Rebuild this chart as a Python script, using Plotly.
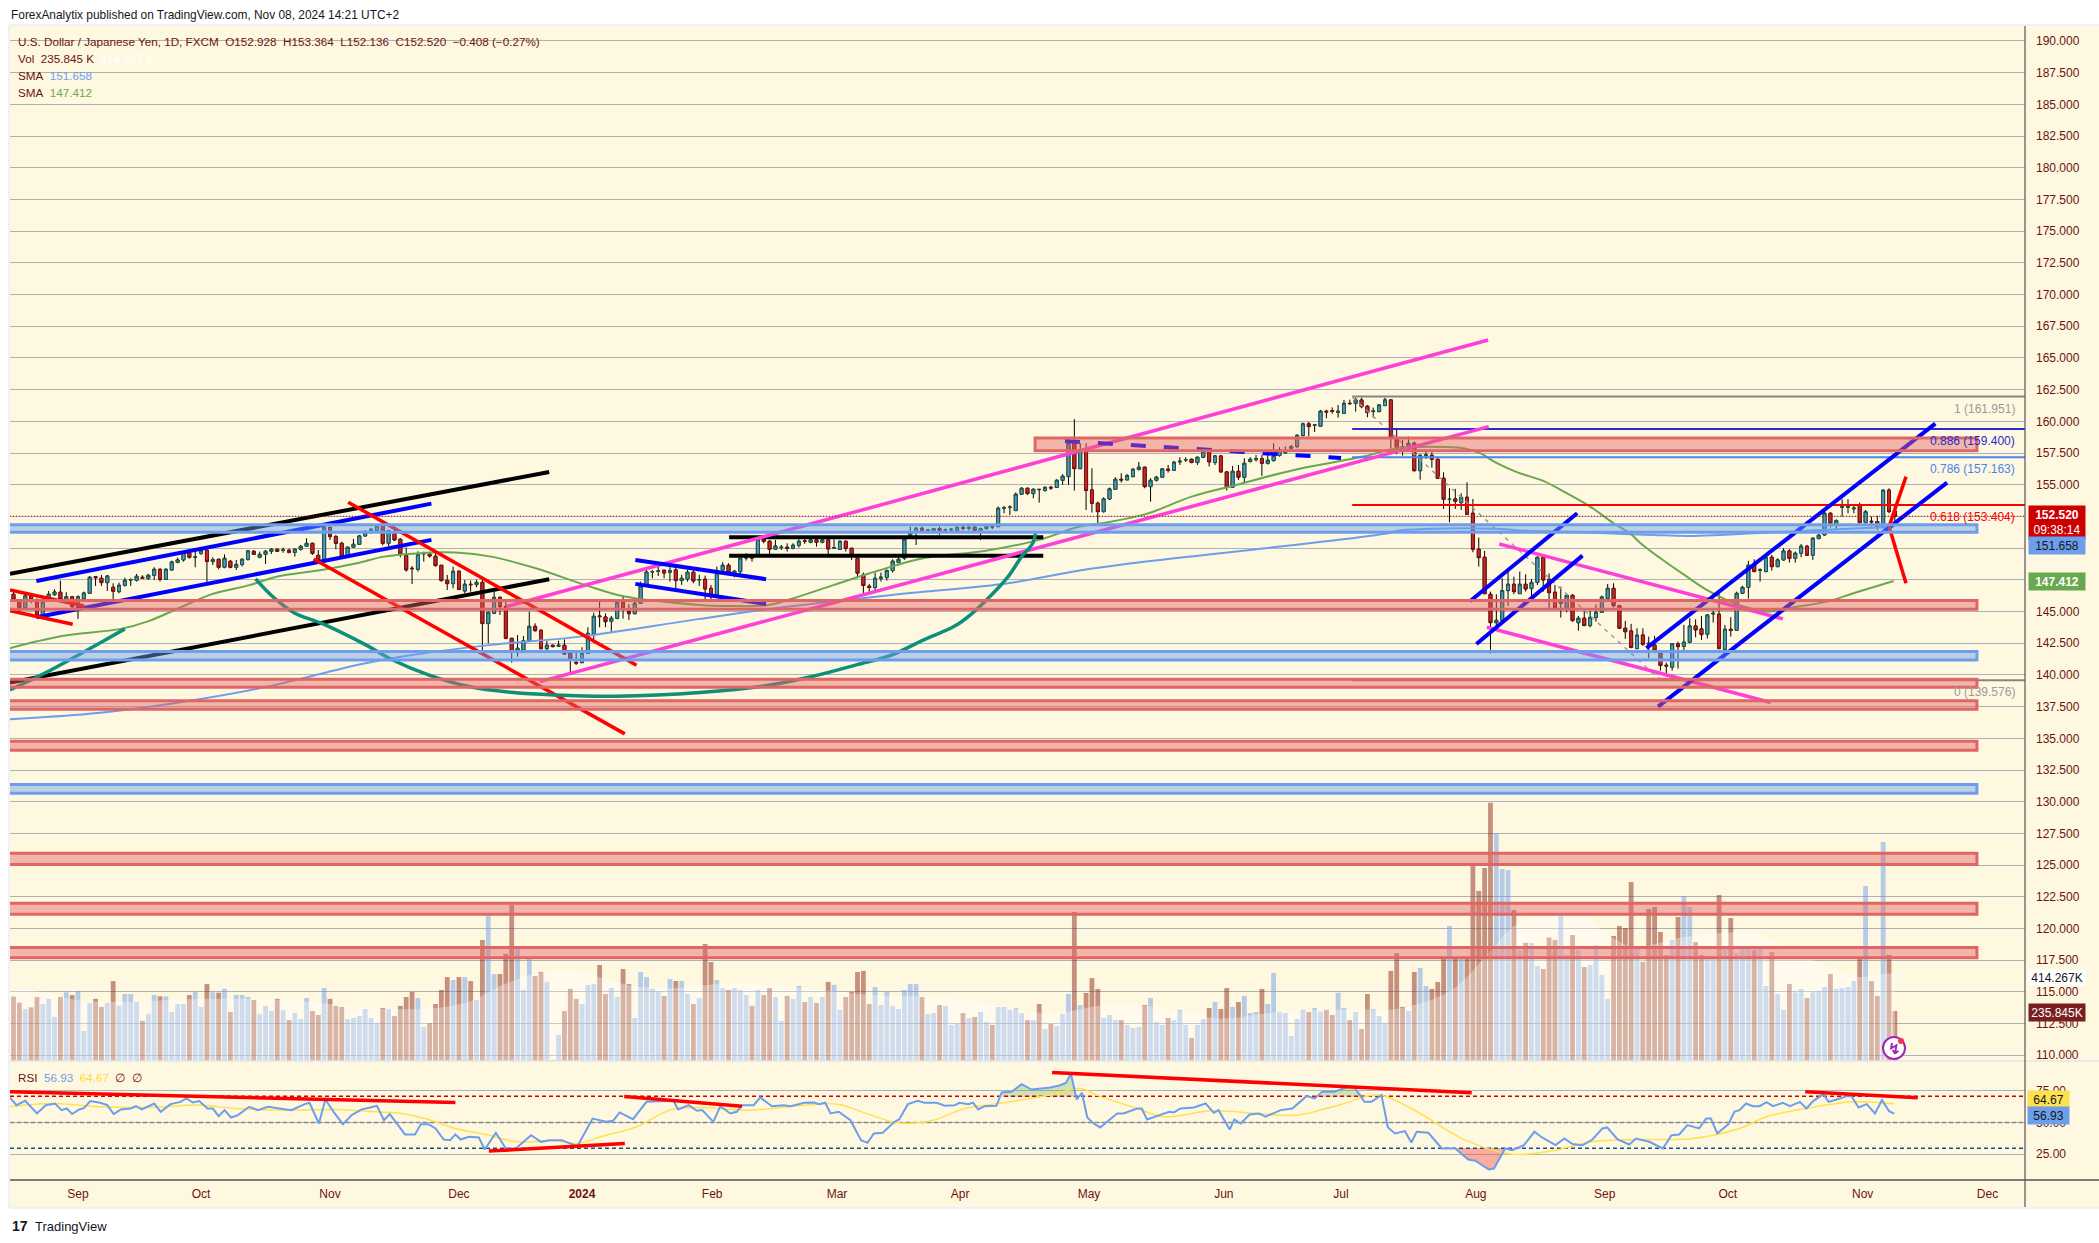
import plotly.graph_objects as go

# ---- candles: bar index -11 .. 310 ----
bars = list(range(-11, 311))
ohlc_rows = """146.36 146.57 145.78 145.96
145.78 145.91 144.99 145.31
145.31 146.44 145.25 146.23
146.23 146.38 145.65 145.91
145.78 146.04 144.54 144.73
144.73 145.91 144.65 145.78
146.04 146.62 145.86 146.36
146.33 146.75 146.23 146.54
146.52 147.44 145.96 145.96
145.96 146.52 145.86 146.17
146.17 146.23 145.25 145.39
145.39 146.28 144.41 146.17
146.02 146.57 145.96 146.46
146.44 147.80 146.38 147.70
147.75 147.80 147.02 147.67
147.62 147.88 147.02 147.28
147.28 147.88 146.62 147.80
146.91 147.23 145.99 146.60
146.57 147.28 146.44 147.07
147.07 147.67 146.96 147.46
147.49 147.62 147.02 147.51
147.46 147.96 147.36 147.78
147.70 147.86 147.57 147.62
147.62 147.96 147.49 147.86
147.86 148.49 147.49 148.33
148.33 148.41 147.36 147.54
147.54 148.41 147.49 148.33
148.28 149.01 148.23 148.91
148.88 149.25 148.80 149.07
149.07 149.75 148.94 149.64
149.64 149.72 149.17 149.28
149.28 149.72 148.49 149.30
149.59 149.99 149.46 149.83
149.83 149.91 147.30 148.94
148.94 149.28 148.67 149.09
149.12 149.17 148.33 148.49
148.49 149.51 148.41 149.20
148.96 149.07 148.41 148.49
148.49 149.07 148.28 148.72
148.72 149.20 148.54 149.12
149.12 149.85 149.01 149.78
149.75 149.85 149.46 149.51
149.28 149.72 149.20 149.51
149.51 149.85 148.75 149.75
149.75 149.99 149.54 149.91
149.91 149.96 149.72 149.75
149.83 150.04 149.64 149.85
149.83 149.96 149.59 149.67
149.67 149.99 149.33 149.91
149.91 150.25 149.80 150.14
150.14 150.78 150.12 150.38
150.38 150.43 149.46 149.59
149.43 149.85 149.01 149.07
149.12 151.77 149.07 151.64
151.64 151.70 150.64 150.91
150.91 151.04 149.91 150.38
150.38 150.51 149.33 149.38
149.38 150.12 149.33 150.07
150.07 150.72 150.01 150.30
150.30 151.04 150.25 150.96
150.96 151.43 150.91 151.22
151.22 151.56 151.17 151.49
151.38 151.83 151.30 151.75
151.75 151.83 150.22 150.38
150.38 151.43 150.17 151.38
151.17 151.43 150.59 150.64
150.70 150.78 149.28 149.54
149.41 150.04 148.15 148.28
148.41 148.59 147.17 148.38
148.33 149.75 148.15 149.51
149.54 149.72 148.94 149.59
149.51 149.72 149.25 149.38
149.36 149.59 148.54 148.62
148.65 148.67 147.36 147.44
147.46 147.88 146.70 147.20
147.20 148.54 146.83 148.17
148.17 148.28 146.70 146.75
146.62 147.49 146.44 147.15
147.15 147.44 146.57 147.12
147.12 147.49 146.91 147.30
147.30 147.49 141.76 144.05
144.05 144.99 142.49 144.94
144.86 146.57 144.81 146.12
146.12 146.17 144.73 145.39
145.39 145.78 142.81 142.89
142.89 142.89 140.97 141.84
141.84 143.15 141.44 142.10
141.97 143.07 141.92 142.70
142.70 144.99 142.63 143.83
143.83 144.07 143.41 143.49
143.52 143.60 142.02 142.07
142.07 142.68 141.97 142.34
142.34 142.41 142.18 142.23
142.26 142.70 142.20 142.34
142.34 142.81 141.57 141.65
141.70 141.76 140.21 141.23
140.99 141.97 140.78 140.94
140.97 142.18 140.92 141.70
141.70 143.76 141.65 143.28
143.23 144.91 142.81 144.62
144.65 145.78 143.76 144.60
144.57 144.86 143.76 144.20
144.23 144.65 143.41 144.47
144.47 145.78 144.39 145.73
145.73 146.25 144.44 145.28
145.02 145.57 144.33 144.83
144.83 145.83 144.78 145.65
145.65 147.36 145.60 146.99
147.09 148.28 147.02 148.12
148.12 148.28 147.62 148.15
148.17 148.59 147.80 148.20
148.25 148.33 147.62 148.04
148.10 148.49 147.36 148.23
148.28 148.60 146.70 147.44
147.44 147.89 147.10 147.62
147.57 148.28 147.36 148.10
148.10 148.23 147.23 147.41
147.49 147.89 147.02 147.52
147.55 147.83 145.97 146.78
146.83 147.10 145.97 146.31
146.31 148.54 146.26 148.02
148.28 148.89 148.23 148.65
148.65 148.81 147.97 148.07
147.94 148.28 147.70 148.18
148.15 149.33 147.89 149.20
149.23 149.60 149.02 149.25
149.25 149.46 148.94 149.23
149.46 150.86 149.33 150.70
150.70 150.83 150.38 150.52
150.54 150.65 149.54 149.91
149.91 150.65 149.86 150.17
150.04 150.25 149.86 150.07
150.07 150.38 149.73 149.99
149.99 150.38 149.91 150.23
150.23 150.70 150.04 150.54
150.57 150.78 150.33 150.54
150.46 150.91 150.38 150.65
150.65 150.91 150.12 150.46
150.46 150.91 150.38 150.65
150.65 150.78 149.46 149.94
149.99 150.70 149.94 150.04
149.91 150.60 149.86 150.54
150.54 150.60 149.73 149.99
149.99 150.04 149.07 149.46
149.20 149.28 147.62 148.02
147.89 148.07 146.44 147.05
146.99 147.18 146.57 146.89
146.89 148.07 146.70 147.62
147.62 148.07 147.36 147.70
147.68 148.33 147.44 148.23
148.23 149.12 148.07 148.97
148.86 149.28 148.81 149.12
149.20 150.91 149.07 150.70
151.04 151.70 150.91 151.23
151.23 151.65 150.25 151.57
151.57 151.70 151.25 151.38
151.38 151.50 151.30 151.44
151.38 151.60 151.30 151.54
151.54 151.70 151.05 151.38
151.41 151.55 151.25 151.44
151.44 151.60 151.30 151.49
151.38 151.70 151.30 151.65
151.65 151.75 151.40 151.54
151.54 151.75 151.40 151.65
151.65 151.75 151.30 151.38
151.31 151.62 150.65 151.54
151.54 151.80 151.45 151.70
151.70 151.78 151.50 151.67
151.70 153.28 151.62 153.15
153.15 153.33 152.75 153.20
153.20 153.38 152.62 153.23
152.96 154.38 152.94 154.25
154.25 154.80 154.20 154.72
154.72 154.78 154.20 154.30
154.30 154.72 153.93 154.64
154.64 154.66 153.59 154.62
154.54 154.85 154.46 154.80
154.80 154.91 154.59 154.75
154.78 155.43 154.75 155.35
155.35 155.83 154.99 155.67
155.64 158.67 154.99 158.27
158.27 160.17 154.54 156.27
156.27 158.27 156.22 157.75
157.75 158.27 153.01 154.54
154.59 156.30 152.80 153.54
153.54 153.67 151.96 152.88
152.88 154.01 152.80 153.88
153.88 154.78 153.80 154.67
154.64 155.59 154.59 155.43
155.43 155.91 155.17 155.38
155.38 155.85 155.38 155.72
155.64 156.30 155.59 156.22
156.20 156.80 156.12 156.38
156.38 156.43 154.72 154.85
154.85 155.51 153.67 155.35
155.35 155.70 155.25 155.59
155.59 156.30 155.54 156.25
156.22 156.56 155.96 156.14
156.14 156.88 156.09 156.77
156.80 157.17 156.56 156.85
156.96 157.17 156.80 156.98
157.01 157.06 156.69 156.75
156.75 157.22 156.56 157.17
157.17 157.88 157.09 157.62
157.62 157.75 156.43 156.80
156.75 157.35 156.56 157.27
157.27 157.35 155.96 156.01
156.01 156.06 154.54 154.80
154.80 156.48 154.75 156.06
156.06 156.56 155.38 155.59
155.59 157.09 155.12 156.69
156.83 157.17 156.75 157.01
156.98 157.35 156.83 157.06
157.06 157.35 155.70 156.69
156.69 157.35 156.59 156.93
156.90 158.27 156.83 157.30
157.30 157.96 157.22 157.75
157.51 158.01 157.48 157.54
157.88 158.14 157.62 158.01
158.01 158.98 157.88 158.90
158.88 159.90 158.80 159.80
159.80 159.95 158.80 159.59
159.69 159.80 159.17 159.72
159.61 160.90 159.59 160.80
160.80 160.90 160.24 160.74
160.85 161.10 160.60 160.80
160.71 161.29 160.29 160.79
160.63 161.69 160.61 161.42
161.42 161.71 161.29 161.40
161.42 161.87 160.77 161.69
161.69 161.87 161.03 161.16
161.19 161.29 160.32 160.69
160.77 161.08 160.29 160.82
160.77 161.34 160.71 161.29
161.24 161.87 161.21 161.69
161.69 161.74 157.87 158.71
158.71 159.32 157.40 157.74
158.00 158.53 157.30 157.74
158.00 158.79 157.74 158.27
158.27 158.40 156.03 156.11
156.11 157.40 155.40 157.32
157.30 157.69 157.03 157.35
157.32 157.56 156.35 157.01
157.01 157.08 155.45 155.51
155.51 155.98 153.09 153.85
153.83 154.72 152.04 153.85
153.88 154.67 153.09 153.69
153.59 154.32 153.01 154.01
154.01 155.19 152.62 152.67
152.75 153.88 149.67 149.91
149.91 150.83 148.54 149.25
149.28 149.78 146.36 146.41
146.36 146.57 141.70 144.12
144.12 146.36 143.81 144.31
144.31 147.62 144.26 146.65
146.65 148.15 145.46 147.15
147.15 147.75 146.36 146.57
146.41 148.15 146.41 147.15
147.15 147.94 146.57 146.78
146.81 147.57 146.04 147.30
147.30 149.33 147.09 149.28
149.28 149.38 146.57 147.49
147.54 148.01 145.25 146.49
146.52 147.09 145.25 145.27
145.65 146.96 144.52 145.78
145.25 146.36 144.94 146.28
146.28 146.36 144.20 144.28
144.12 144.65 143.49 144.47
144.47 145.04 143.86 143.89
143.89 145.04 143.76 144.54
144.54 145.57 144.20 144.94
144.94 146.25 144.91 146.15
146.02 147.17 145.96 146.83
146.83 147.23 145.33 145.46
145.46 145.52 143.62 143.68
143.68 144.26 142.84 143.41
143.47 144.02 142.10 142.16
142.08 143.68 142.02 143.13
143.15 143.68 142.29 142.42
142.50 143.02 141.31 142.45
142.37 143.08 141.71 141.97
141.76 141.97 140.34 140.74
140.76 140.97 139.87 140.71
140.61 142.50 140.34 142.45
142.45 142.63 140.50 142.23
142.26 143.94 141.97 142.58
142.58 144.47 142.50 143.86
143.86 144.39 142.97 143.55
143.63 144.65 142.76 143.18
143.21 144.81 142.87 144.73
144.81 145.05 144.13 144.86
144.79 146.44 142.02 142.08
142.02 143.94 141.97 143.60
143.60 144.55 143.02 143.50
143.52 146.57 143.47 146.44
146.44 147.02 146.39 146.91
146.91 148.99 146.02 148.65
148.65 149.12 148.10 148.15
148.26 148.41 147.36 148.28
148.15 149.54 148.10 149.28
149.28 149.46 148.23 148.54
148.54 149.20 148.49 149.07
149.07 149.99 149.02 149.78
149.78 149.91 148.86 149.18
149.20 149.73 148.86 149.60
149.60 150.33 149.28 150.15
150.15 150.25 149.39 149.44
149.44 150.86 149.07 150.78
150.75 151.12 150.70 151.02
151.04 152.88 150.99 152.75
152.75 152.83 151.62 151.96
151.83 152.28 151.44 152.17
153.22 153.86 152.49 153.28
153.22 153.86 152.75 153.33
153.10 153.33 152.75 153.15
153.41 153.59 151.96 152.01
152.01 153.01 151.96 152.88
152.12 152.49 151.70 152.07
152.09 152.54 151.44 151.70
151.70 154.64 151.57 154.57
154.57 154.72 152.75 152.88
152.928 153.364 152.136 152.520"""
rows = [[float(v) for v in r.split()] for r in ohlc_rows.splitlines()]
opens = [r[0] for r in rows]
highs = [r[1] for r in rows]
lows = [r[2] for r in rows]
closes = [r[3] for r in rows]

# ---- volume in thousands ----
volume = [304,275,245,253,302,269,293,208,302,324,311,330,142,274,293,255,274,377,261,316,316,278,189,222,311,305,305,231,269,269,311,326,255,363,324,322,340,231,311,311,302,288,222,260,236,293,241,193,226,198,297,236,217,344,293,260,255,198,203,212,245,203,179,250,245,212,260,302,326,297,160,179,269,335,396,382,396,396,377,288,571,684,410,410,505,736,528,335,481,401,420,373,5,123,236,340,293,269,359,363,453,316,344,302,434,363,203,420,396,340,330,307,387,377,377,316,269,297,552,467,382,344,335,344,335,311,260,335,311,344,302,189,307,293,354,278,302,274,302,373,359,241,302,326,420,425,269,349,264,326,260,245,335,363,363,302,222,226,264,260,170,175,226,203,208,231,184,170,255,255,241,250,226,193,193,269,151,175,165,222,316,703,264,321,391,340,203,217,193,193,170,156,160,264,297,184,170,203,193,241,170,109,170,198,250,278,245,344,255,278,307,226,231,340,269,415,231,226,118,198,241,231,250,233,241,217,322,250,193,231,151,316,245,212,179,425,509,255,236,420,439,354,340,373,491,637,486,486,486,929,802,910,1218,1074,906,901,712,524,557,557,448,434,582,571,693,500,594,524,443,453,547,406,293,590,637,627,844,542,467,717,726,608,500,571,679,778,726,561,500,486,486,783,538,675,509,538,542,524,533,354,514,316,241,363,324,340,297,324,330,349,410,340,344,349,377,486,825,377,307,1033,500,235.845]
vol_ma_x = [-11.6,-6.4,-0.2,9.6,15.3,21,32.4,41.6,50.7,59.8,66.7,72.4,78.1,83.8,89.6,95.3,101,106.7,112.4,123.9,135.3,146.7,158.1,165.9,177.3,188.7,194.4,205.8,217.2,225.3,234.4,240.1,245.8,256.1,260.7,265.3,274.4,285.8,291.6,297.2,302.9,308.7,310]
vol_ma_y = [343,327,288,280,288,293,291,272,248,248,280,358,413,429,390,351,343,358,366,343,311,303,256,225,269,233,201,233,244,248,335,492,649,696,602,539,586,602,539,461,398,413,414.267]

# ---- moving averages on price, read at spaced bars ----
sma_blue_x = [-11.6,1.9,16.4,32.4,47.6,55.3,70.5,85.7,106.1,121.3,138.9,158.7,170.9,182.3,197.6,223.5,225,230.7,236.4,242.1,247.8,253.5,264.8,268.8,274.5,280.2,285.9,291.6,297.3,303,309.8]
sma_blue_y = [136.51,136.93,137.77,139.08,140.79,141.45,142.37,143.02,144.42,145.39,146.31,147.23,148.23,148.94,149.73,151.17,151.36,151.52,151.57,151.52,151.36,151.3,151.1,151.04,150.96,151.04,151.17,151.3,151.43,151.54,151.658]
sma_green_x = [-11.6,-7.2,-1.9,7.3,11.8,17.2,22.5,29.4,33.9,41.5,47.6,52.2,58.3,64.4,70.5,78.1,86.5,93.3,106.1,110.7,117.6,122.1,129,136.6,144.2,154.9,164,170.9,174.7,182.3,190,197.6,207.5,219.3,225,230.7,236.4,239.2,242.1,245.5,250,253.5,258,262,264.8,266.6,270,274.5,277.9,281.9,285.9,288.7,292.7,298.4,302.9,309.8]
sma_green_y = [142.11,142.63,143.13,143.63,144.2,145.26,146.31,147.1,147.75,148.28,148.81,149.33,149.6,149.65,149.33,148.41,147.1,146.18,145.52,145.44,145.5,146.05,147.1,148.23,149.2,149.8,150.65,151.7,151.96,152.7,154.06,154.98,156.17,157.22,157.88,158.0,157.88,157.49,156.7,155.99,155.3,154.46,153.28,151.96,151.17,150.39,149.2,147.75,146.7,145.78,145.18,145.0,145.34,145.78,146.44,147.412]

# ---- RSI, read at its turning points ----
rsi_x = [-11.6,-10.5,-9,-7,-5.5,-3.9,-2.8,-1.9,-1,0.2,1,2.1,3.8,5,6.1,7.3,9,9.9,10.9,13,14.1,15.8,17.5,18.5,19.6,20.7,22.1,23,24,25,26.1,27.3,29.2,30.7,32.4,34.1,36.4,38.7,39.5,41.1,42.2,43.8,45.2,46.7,48.4,51,52.2,53.2,55.8,57.5,58.5,59.8,61,62.4,63.5,64.4,65.3,66.7,68.4,69.4,71.3,73,74.7,77.3,79,80.4,82.5,85.2,87.8,90.1,91.3,92.4,94.7,97,101.6,102.4,104.2,105.6,106.5,108.4,109.6,111.3,112.4,113.3,115.3,116.4,118.4,120.4,121.6,123.9,125.6,126.4,127.5,128.4,129.8,131.8,133.6,134.7,135.8,137.3,139.3,140.1,141.6,143.3,144.4,146.5,147.9,149.6,150.4,151.9,152.7,153.6,154.7,156.7,157.6,159.3,161,162.7,165.9,167.6,168.6,169.4,170.4,171.3,172.2,173.3,174.4,177.3,178.4,180.7,181.5,182.4,184.7,186.2,187,188.1,190.4,192.4,193.8,194.6,196.5,197.3,198.4,199.9,201.5,202.6,205.2,207.2,209.6,211,212.3,214.4,216.7,217.8,219.5,220.7,222.4,223.5,224.7,226.4,227.5,228.4,230.4,232.7,235,237.2,238.4,240.7,241.6,243.5,244.7,246.7,248.5,249.8,252.1,253.6,255,256.7,258.4,260.1,260.9,262.7,264.7,265.8,268.1,270.4,271.9,273.2,274.6,276.6,277.8,278.6,279.7,281.6,282.6,283.5,284.6,285.8,286.9,288.1,289.2,290.9,292.1,293.8,294.9,296.1,297.8,298.7,300.6,301.8,302.6,303.8,305.2,306.6,307.8,309,309.9]
rsi_y = [69.4,63.6,67,57.1,63.6,64.9,59.7,61,56.6,60.2,61.3,66.8,65.5,63.6,56.6,60.2,61,62.8,60.2,64.9,58.4,64.4,66.2,68.9,65.7,66.8,61,61,55,59.7,53.9,55.8,62.3,59.7,62.3,61,59.7,64.4,65.5,49.2,68.1,57.1,48.7,55.8,60.2,63.1,51.8,56.6,40.6,40.6,48.7,48.7,45.3,36.6,36.1,40.6,36.6,38.7,38.2,28.8,41.9,29.6,29.6,40,34.8,36.1,36.1,31.4,53.1,50.5,51.3,57.9,52.6,66.2,67,60.2,63.6,59.2,59.7,50.5,62.8,57.1,58.4,63.6,63.6,69.7,62.8,63.6,62.8,65.5,65.7,64.4,65.5,57.1,58.4,51.8,36.1,34,41.4,41.9,50.5,52.4,64.4,67,65.5,65.5,63.1,63.6,65.5,64.4,65.5,60.2,62.8,63.1,73.6,74.1,80.1,75.9,77.5,79.3,81.2,88.5,68.1,73.3,53.9,49.2,46.1,57.1,57.1,61,61,52.4,56.3,58.4,57.9,61,61.8,64.9,57.6,59.7,44.5,52.4,49.2,56.3,57.1,54.5,59.7,61,70.7,68.9,74.1,74.1,78,77.5,66.2,66.2,71.5,46.1,41.4,43.2,34.3,42.7,41.9,29.6,29.6,20.9,19.9,13.1,13.8,29.6,28.3,32.2,42.7,38.2,32.2,37.4,33,32.2,36.6,45.3,46.1,36.6,32.7,37.4,34.8,29.6,40,40.6,47.9,45.3,53.1,53.1,41.4,48.7,58.4,59.7,64.9,62.8,62.8,66,62.8,65.5,62.8,66.2,61,67,72,66.2,68.9,70.7,70.7,61.8,64.4,57.1,67.6,58.9,56.93]
rsi_ma_x = [-11.6,-4.2,3.8,11.8,21,26.7,35.8,43.8,50.7,55.3,59.8,64.4,70.1,74.7,81.5,85.2,89.6,95.3,101,105.6,114.7,123.9,129.6,135.3,139.9,145.6,151.3,157,165.9,171,173.8,180.7,185.3,193.3,201.3,208.1,215,221.8,227.5,236.7,244.7,251.5,258.4,266.4,275.5,283.5,288.1,294.9,302.9,309.8]
rsi_ma_y = [62.3,64.9,62.3,61.8,63.6,61,59.7,60.2,58.4,57.1,52.4,45.3,40,34.8,35.6,33.5,39.3,46.6,59.7,61.8,59.7,63.6,64.4,55.8,49.7,51.3,61,64.9,71.5,76.7,71.5,61,54.5,59.2,57.1,55.8,63.6,71.5,61,36.1,25.1,27.7,34.8,36.6,37.4,45.3,54.5,61,66.2,64.67]

# ---- axis ticks ----
month_ticks = [0,21,43,65,86,108.2,129.5,150.5,172.5,195.5,215.5,238.5,260.5,281.5,304.5,325.8]
month_labels = ["Sep","Oct","Nov","Dec","<b>2024</b>","Feb","Mar","Apr","May","Jun","Jul","Aug","Sep","Oct","Nov","Dec"]
price_ticks = [190-2.5*k for k in range(33)]
rsi_ticks = [25,50,75]

# ---- drawings: (bar, price) pairs ----
black_lines = [[(-11.6,147.97),(80.4,156.01)],[(-11.6,139.39),(80.4,147.55)],[(111.1,150.86),(164.7,150.86)],[(111.1,149.39),(164.7,149.39)]]
blue_lines = [[(-7.1,147.41),(60.3,153.51)],[(-7.1,144.55),(60.3,150.65)],[(95.1,149.07),(117.4,147.55)],[(95.1,147.18),(117.4,145.6)],
              [(237.5,145.81),(255.8,152.75)],[(238.6,142.44),(256.7,149.41)],[(267.6,142.11),(316.9,159.82)],[(269.6,137.5),(318.9,155.17)]]
red_lines = [[(46.1,153.62),(95.3,140.77)],[(40.2,149.15),(93.3,135.35)],[(-11.6,146.7),(1,145.44)],[(-11.6,145.07),(-0.9,144.0)],
             [(309,151.7),(311.9,155.64)],[(309,151.7),(311.9,147.23)]]
magenta_lines = [[(73.1,145.39),(240.6,166.42)],[(78.8,139.47),(240.7,159.58)],[(242.5,150.33),(290.9,144.42)],[(240.4,143.76),(288.8,137.82)]]
dashed_blue = [(168.4,158.45),(215.5,157.11)]
teal_a = [(-11.6,138.82),(-5.7,140.13),(-0.4,141.45),(4.2,142.63),(8,143.63)]
teal_b = [(30.3,147.57),(33.2,146.18),(37,144.87),(41.5,144.08),(49.1,142.37),(53.7,141.18),(59.8,140.0),(66.7,139.08),(74.3,138.61),(81.2,138.42),(91.8,138.32),(106.1,138.61),(117.6,139.16),(125.2,139.87),(132.8,140.79),(138.9,141.58),(144.2,142.75),(149.6,143.85),(152.6,144.87),(155.6,146.18),(158.7,147.75),(161,149.33),(162.9,150.39),(163.4,151.3)]
fib_levels = [("1",161.951,"#848484"),("0.886",159.4,"#2b2bd0"),("0.786",157.163,"#4a86e8"),("0.618",153.404,"#ff0000"),("0",139.576,"#848484")]
fib_diag = [(217.5,161.87),(270,139.58)]
red_zones = [(139.03,139.66),(137.3,137.97),(134.06,134.77),(145.18,145.86),(125.04,125.94),(121.13,122.0),(117.69,118.5)]
blue_zones = [(151.25,151.85),(141.18,141.84),(130.67,131.35)]
top_zone = (157.69,158.69)
rsi_divergence = [[(-11.6,74.1),(64.4,65.7)],[(70.1,27.5),(93.3,33.5)],[(93.2,70.4),(113.3,62.8)],[(166.2,89.3),(237.8,73.3)],[(294.7,74.1),(313.9,69.4)]]

# ---- page geometry ----
W, H = 2099, 1243
L, R, T, B = 10, 2025, 26, 1180
SPLIT = 1061
plot_h = B - T
xrange_ = [-11.6, 332.2]
def px(x): return (x - L) / (R - L)
def py(y): return (B - y) / plot_h

CREAM = "#fff8e1"
TXT = "#6d1212"
FONT = "Liberation Sans"
UP_FILL, UP_LINE, DN_FILL, DN_LINE = "#4f94d8", "#1d5c3a", "#c62828", "#7b1010"
rsi_split = (B - SPLIT) / plot_h

fig = go.Figure()

# volume (lowest layer)
vol_colors = ["rgba(109,158,235,0.5)" if c >= o else "rgba(139,40,26,0.5)" for o, c in zip(opens, closes)]
fig.add_trace(go.Bar(x=bars, y=volume, marker=dict(color=vol_colors, line=dict(width=0)), width=0.82, yaxis="y", xaxis="x"))
fig.add_trace(go.Scatter(x=vol_ma_x, y=vol_ma_y, mode="lines", fill="tozeroy", line=dict(width=0, shape="spline"),
                         fillcolor="rgba(255,255,255,0.33)", yaxis="y", xaxis="x"))

# candles: black wicks then bodies
fig.add_trace(go.Candlestick(x=bars, open=opens, high=highs, low=lows, close=closes, yaxis="y2", xaxis="x",
                             increasing=dict(line=dict(color="#000000", width=1), fillcolor=UP_FILL),
                             decreasing=dict(line=dict(color="#000000", width=1), fillcolor=DN_FILL), whiskerwidth=0))
fig.add_trace(go.Candlestick(x=bars, open=opens, close=closes,
                             high=[max(o, c) for o, c in zip(opens, closes)],
                             low=[min(o, c) for o, c in zip(opens, closes)], yaxis="y2", xaxis="x",
                             increasing=dict(line=dict(color=UP_LINE, width=1), fillcolor=UP_FILL),
                             decreasing=dict(line=dict(color=DN_LINE, width=1), fillcolor=DN_FILL), whiskerwidth=0))

def line_trace(pts, color, width=3, dash=None, shape="linear", yaxis="y2"):
    fig.add_trace(go.Scatter(x=[p[0] for p in pts], y=[p[1] for p in pts], mode="lines", yaxis=yaxis, xaxis="x",
                             line=dict(color=color, width=width, dash=dash, shape=shape)))

fig.add_trace(go.Scatter(x=sma_blue_x, y=sma_blue_y, mode="lines", line=dict(color="#6d9eeb", width=2, shape="spline"), yaxis="y2", xaxis="x"))
fig.add_trace(go.Scatter(x=sma_green_x, y=sma_green_y, mode="lines", line=dict(color="#6aa84f", width=2, shape="spline"), yaxis="y2", xaxis="x"))
line_trace(fib_diag, "#9a9a9a", 1.5, dash="4px,5px")
for name, lvl, col in fib_levels:
    line_trace([(217.4, lvl), (xrange_[1], lvl)], col, 2)
for seg in black_lines:
    line_trace(seg, "#000000", 4)
for seg in magenta_lines:
    line_trace(seg, "#ff40d8", 3.5)
for seg in blue_lines:
    line_trace(seg, "#0000ff", 4)
for seg in red_lines:
    line_trace(seg, "#ff0000", 3.5)
line_trace(dashed_blue, "#0000ff", 4, dash="15px,18px")
line_trace(teal_a, "#0d8f7a", 3.5, shape="spline")
line_trace(teal_b, "#0d8f7a", 3.5, shape="spline")
line_trace([(xrange_[0], closes[-1]), (xrange_[1], closes[-1])], "#cc0000", 1, dash="1px,2px")

# RSI pane
def rsi_poly(level, above):
    xs, ys, open_seg = [], [], False
    for a, b in zip(rsi_x, rsi_y):
        inside = b > level if above else b < level
        if inside:
            if not open_seg:
                xs.append(a); ys.append(level); open_seg = True
            xs.append(a); ys.append(b)
        elif open_seg:
            xs += [a, None]; ys += [level, None]; open_seg = False
    return xs, ys
gx, gy = rsi_poly(70, True)
fig.add_trace(go.Scatter(x=gx, y=gy, mode="lines", line=dict(width=0), fill="toself", fillcolor="rgba(106,168,79,0.3)", yaxis="y3", xaxis="x"))
rx, ry = rsi_poly(30, False)
fig.add_trace(go.Scatter(x=rx, y=ry, mode="lines", line=dict(width=0), fill="toself", fillcolor="rgba(239,83,80,0.45)", yaxis="y3", xaxis="x"))
for lvl, col in [(70.6, "#cc0000"), (50, "#888888"), (29.7, "#0b5394")]:
    line_trace([(xrange_[0], lvl), (xrange_[1], lvl)], col, 1.5, dash="4px,3px", yaxis="y3")
fig.add_trace(go.Scatter(x=rsi_ma_x, y=rsi_ma_y, mode="lines", line=dict(color="#ffe14d", width=1.5, shape="spline"), yaxis="y3", xaxis="x"))
fig.add_trace(go.Scatter(x=rsi_x, y=rsi_y, mode="lines", line=dict(color="#6d9eeb", width=2), yaxis="y3", xaxis="x"))
for seg in rsi_divergence:
    line_trace(seg, "#ff0000", 3.5, yaxis="y3")

# ---- shapes ----
shapes = [
    dict(type="rect", xref="paper", yref="paper", x0=px(L), x1=px(W), y0=py(1207), y1=py(T), fillcolor=CREAM, line=dict(width=0), layer="below"),
    dict(type="line", xref="paper", yref="paper", x0=0, x1=px(W), y0=py(T-1), y1=py(T-1), line=dict(color="#eff1f5", width=2), layer="below"),
    dict(type="line", xref="paper", yref="paper", x0=px(L-1), x1=px(L-1), y0=py(1208), y1=py(T-1), line=dict(color="#eff1f5", width=2), layer="below"),
    dict(type="line", xref="paper", yref="paper", x0=px(L), x1=px(W), y0=py(1208), y1=py(1208), line=dict(color="#eff1f5", width=2), layer="below"),
    dict(type="line", xref="paper", yref="paper", x0=0, x1=px(W), y0=py(SPLIT), y1=py(SPLIT), line=dict(color="#e4e6ea", width=1.5)),
    dict(type="line", xref="paper", yref="paper", x0=0, x1=px(W), y0=py(B), y1=py(B), line=dict(color="#555555", width=1.5)),
    dict(type="line", xref="paper", yref="paper", x0=1, x1=1, y0=py(1207), y1=py(T), line=dict(color="#555555", width=1.2)),
]
ZONE_END = 324
for lo, hi in red_zones:
    shapes.append(dict(type="rect", xref="x", yref="y2", x0=xrange_[0]-3, x1=ZONE_END, y0=lo, y1=hi,
                       fillcolor="rgba(224,102,102,0.45)", line=dict(color="#e06666", width=3), layer="above"))
for lo, hi in blue_zones:
    shapes.append(dict(type="rect", xref="x", yref="y2", x0=xrange_[0]-3, x1=ZONE_END, y0=lo, y1=hi,
                       fillcolor="rgba(109,158,235,0.45)", line=dict(color="#6d9eeb", width=3), layer="above"))
shapes.append(dict(type="rect", xref="x", yref="y2", x0=163.3, x1=ZONE_END, y0=top_zone[0], y1=top_zone[1],
                   fillcolor="rgba(224,102,102,0.45)", line=dict(color="#e06666", width=3), layer="above"))
# lightning badge
shapes.append(dict(type="circle", xref="paper", yref="paper", x0=px(1883), x1=px(1905), y0=py(1059), y1=py(1037),
                   fillcolor="#ffffff", line=dict(color="#9c27b0", width=2), layer="above"))
shapes.append(dict(type="circle", xref="paper", yref="paper", x0=px(1898), x1=px(1904), y0=py(1044), y1=py(1038),
                   fillcolor="#f23645", line=dict(width=0), layer="above"))

# ---- annotations ----
ann = []
def txt(x, y, s, color=TXT, size=12, anchor="left", bg=None, pad=0, w=None, h=None, align=None):
    d = dict(xref="paper", yref="paper", x=px(x), y=py(y), text=s, showarrow=False, xanchor=anchor, yanchor="middle",
             font=dict(family=FONT, size=size, color=color))
    if bg:
        d.update(bgcolor=bg, borderpad=pad)
    if w: d["width"] = w
    if h: d["height"] = h
    if align: d["align"] = align
    ann.append(d)

txt(9, 15, "ForexAnalytix published on TradingView.com, Nov 08, 2024 14:21 UTC+2", color="#131722", size=11.9)
txt(16, 41, "U.S. Dollar / Japanese Yen, 1D, FXCM&nbsp;&nbsp;O152.928&nbsp;&nbsp;H153.364&nbsp;&nbsp;L152.136&nbsp;&nbsp;C152.520&nbsp;&nbsp;−0.408 (−0.27%)", size=11.7)
txt(16, 59, "Vol&nbsp;&nbsp;235.845 K&nbsp;&nbsp;<span style='color:#ffffff'>414.267 K</span>", size=11.7)
txt(16, 76, "SMA&nbsp;&nbsp;<span style='color:#6d9eeb'>151.658</span>", size=11.7)
txt(16, 93, "SMA&nbsp;&nbsp;<span style='color:#6aa84f'>147.412</span>", size=11.7)
txt(16, 1077, "RSI&nbsp;&nbsp;<span style='color:#6d9eeb'>56.93</span>&nbsp;&nbsp;<span style='color:#ffd83a'>64.67</span>&nbsp;&nbsp;∅&nbsp;&nbsp;∅", size=11.7)
for name, lvl, col in fib_levels:
    ann.append(dict(xref="paper", yref="y2", x=px(2017), y=lvl, yshift=-12, text=f"{name} ({lvl:.3f})", showarrow=False,
                    xanchor="right", yanchor="middle", font=dict(family=FONT, size=12, color=col if name not in ("1","0") else "#9a9a9a")))
txt(2028, 522, "<b>152.520</b><br>09:38:14", color="#ffffff", bg="#cc0000", pad=2, w=52, h=29, align="center")
txt(2028, 545, "151.658", color="#131722", bg="#6d9eeb", pad=1, w=54, h=15, align="center")
txt(2028, 581, "<b>147.412</b>", color="#ffffff", bg="#6aa84f", pad=1, w=54, h=15, align="center")
txt(2028, 977, "414.267K", color="#131722", bg="#ffffff", pad=1, w=54, h=13, align="center")
txt(2028, 1012, "235.845K", color="#ffffff", bg="#7a1f1f", pad=1, w=54, h=15, align="center")
txt(2027, 1099, "64.67", color="#131722", bg="#ffe14d", pad=1, w=39, h=15, align="center")
txt(2027, 1115, "56.93", color="#131722", bg="#6d9eeb", pad=1, w=39, h=15, align="center")
txt(1894, 1048, "<b>↯</b>", color="#9c27b0", size=15, anchor="center")
txt(10, 1226, "<b>17</b>", color="#131722", size=14)
txt(33, 1226, "TradingView", color="#131722", size=13)

fig.update_layout(
    width=W, height=H, showlegend=False, paper_bgcolor="#ffffff", plot_bgcolor=CREAM,
    margin=dict(l=L, r=W-R, t=T, b=H-B, pad=0), bargap=0.18, barmode="overlay", boxgap=0.28,
    shapes=shapes, annotations=ann, font=dict(family=FONT, size=12, color=TXT), hovermode=False,
    xaxis=dict(domain=[0, 1], range=xrange_, anchor="y3", tickmode="array", tickvals=month_ticks, ticktext=month_labels,
               showgrid=False, zeroline=False, showline=False, ticks="", rangeslider=dict(visible=False),
               tickfont=dict(family=FONT, size=12, color=TXT), ticklabelstandoff=5),
    yaxis=dict(domain=[rsi_split, 1], range=[0, 4882], visible=False, fixedrange=True),
    yaxis2=dict(domain=[rsi_split, 1], range=[109.55, 191.18], overlaying="y", side="right", anchor="x",
                tickmode="array", tickvals=price_ticks, tickformat=".3f", showgrid=True, gridcolor="#abb3b6", gridwidth=1,
                zeroline=False, showline=False, ticks="", ticklabelstandoff=10,
                tickfont=dict(family=FONT, size=12, color=TXT)),
    yaxis3=dict(domain=[0, rsi_split], range=[4.8, 98.3], side="right", anchor="x",
                tickmode="array", tickvals=rsi_ticks, tickformat=".2f", showgrid=True, gridcolor="#abb3b6", gridwidth=1,
                zeroline=False, showline=False, ticks="", ticklabelstandoff=10,
                tickfont=dict(family=FONT, size=12, color=TXT)),
)

fig.write_html("out.html", config=dict(displayModeBar=False, staticPlot=True),
               post_script="document.body.style.margin='0';document.body.style.background='#ffffff';")
